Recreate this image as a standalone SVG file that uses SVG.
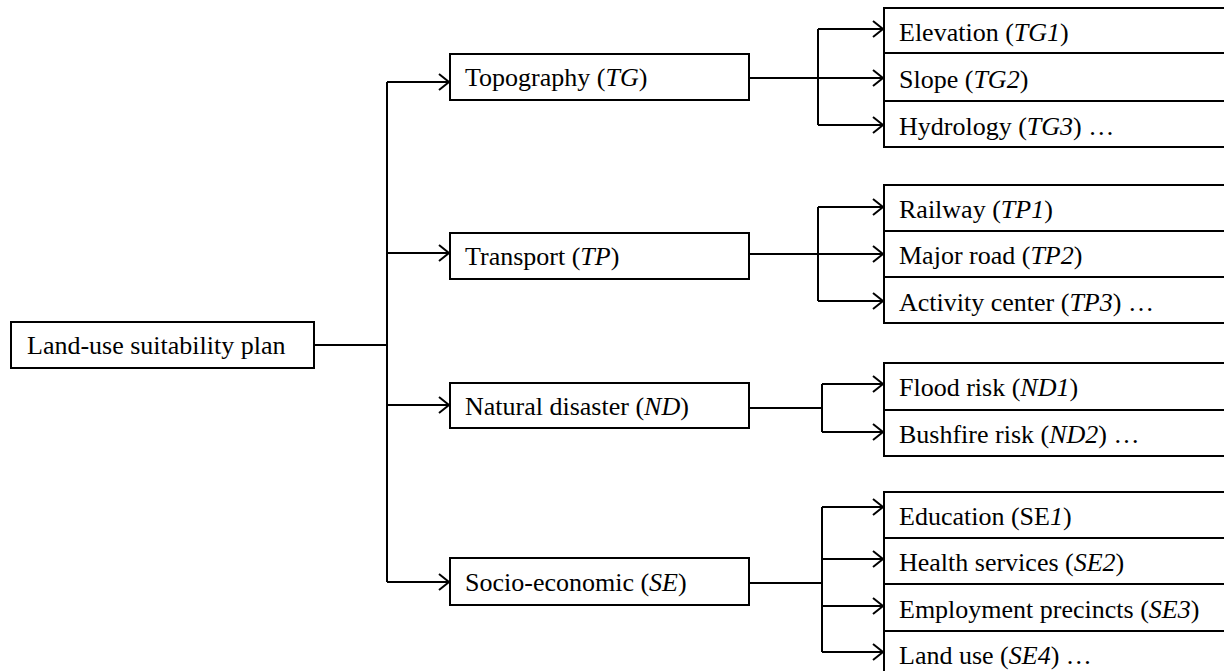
<svg xmlns="http://www.w3.org/2000/svg" width="1224" height="671" viewBox="0 0 1224 671">
<style>
.box{fill:#fff;stroke:#000;stroke-width:2}
.ln{fill:none;stroke:#000;stroke-width:2}
.ar{fill:none;stroke:#000;stroke-width:2;marker-end:url(#arr)}
text{font-family:"Liberation Serif","Times New Roman",serif;font-size:26px;fill:#000}
.i{font-style:italic}
</style>
<defs>
<marker id="arr" markerUnits="userSpaceOnUse" viewBox="-12 -10 14 20" refX="0" refY="0" markerWidth="14" markerHeight="20" orient="auto">
<path d="M-10,-8 L0,0 L-10,8" fill="none" stroke="#000" stroke-width="2"/>
</marker>
</defs>
<rect width="1224" height="671" fill="#fff"/>
<g id="connectors">
<path class="ln" d="M314,345 H387"/>
<path class="ln" d="M387,82 V582"/>
<path class="ar" d="M387,82 H449"/>
<path class="ar" d="M387,253 H449"/>
<path class="ar" d="M387,405 H449"/>
<path class="ar" d="M387,582 H449"/>
<path class="ln" d="M749,78 H818"/>
<path class="ln" d="M818,29 V125"/>
<path class="ar" d="M818,29 H883"/>
<path class="ar" d="M818,78 H883"/>
<path class="ar" d="M818,125 H883"/>
<path class="ln" d="M749,254 H818"/>
<path class="ln" d="M818,207 V301"/>
<path class="ar" d="M818,207 H883"/>
<path class="ar" d="M818,254 H883"/>
<path class="ar" d="M818,301 H883"/>
<path class="ln" d="M749,408 H822"/>
<path class="ln" d="M822,384 V432"/>
<path class="ar" d="M822,384 H883"/>
<path class="ar" d="M822,432 H883"/>
<path class="ln" d="M749,583 H822"/>
<path class="ln" d="M822,507 V652"/>
<path class="ar" d="M822,507 H883"/>
<path class="ar" d="M822,559 H883"/>
<path class="ar" d="M822,606 H883"/>
<path class="ar" d="M822,652 H883"/>
</g>
<g id="root">
<rect class="box" x="11" y="322" width="303" height="46"/>
<text x="27" y="354">Land-use suitability plan</text>
</g>
<g id="TG">
<rect class="box" x="450" y="54" width="299" height="46"/>
<text x="465" y="86">Topography (<tspan class="i">TG</tspan>)</text>
</g>
<g id="TP">
<rect class="box" x="450" y="233" width="299" height="46"/>
<text x="465" y="265">Transport (<tspan class="i">TP</tspan>)</text>
</g>
<g id="ND">
<rect class="box" x="450" y="383" width="299" height="45"/>
<text x="465" y="415">Natural disaster (<tspan class="i">ND</tspan>)</text>
</g>
<g id="SE">
<rect class="box" x="450" y="558" width="299" height="47"/>
<text x="465" y="591">Socio-economic (<tspan class="i">SE</tspan>)</text>
</g>
<g id="TG1"><rect class="box" x="884" y="8" width="350" height="45"/><text x="899" y="41">Elevation (<tspan class="i">TG1</tspan>)</text></g>
<g id="TG2"><rect class="box" x="884" y="53" width="350" height="48"/><text x="899" y="88">Slope (<tspan class="i">TG2</tspan>)</text></g>
<g id="TG3"><rect class="box" x="884" y="101" width="350" height="46"/><text x="899" y="135">Hydrology (<tspan class="i">TG3</tspan>) …</text></g>
<g id="TP1"><rect class="box" x="884" y="185" width="350" height="46"/><text x="899" y="218">Railway (<tspan class="i">TP1</tspan>)</text></g>
<g id="TP2"><rect class="box" x="884" y="231" width="350" height="46"/><text x="899" y="264">Major road (<tspan class="i">TP2</tspan>)</text></g>
<g id="TP3"><rect class="box" x="884" y="277" width="350" height="46"/><text x="899" y="311">Activity center (<tspan class="i">TP3</tspan>) …</text></g>
<g id="ND1"><rect class="box" x="884" y="363" width="350" height="47"/><text x="899" y="396">Flood risk (<tspan class="i">ND1</tspan>)</text></g>
<g id="ND2"><rect class="box" x="884" y="410" width="350" height="46"/><text x="899" y="443">Bushfire risk (<tspan class="i">ND2</tspan>) …</text></g>
<g id="SE1"><rect class="box" x="884" y="492" width="350" height="46"/><text x="899" y="525">Education (SE<tspan class="i">1</tspan>)</text></g>
<g id="SE2"><rect class="box" x="884" y="538" width="350" height="46"/><text x="899" y="571">Health services (<tspan class="i">SE2</tspan>)</text></g>
<g id="SE3"><rect class="box" x="884" y="584" width="350" height="47"/><text x="899" y="618">Employment precincts (<tspan class="i">SE3</tspan>)</text></g>
<g id="SE4"><rect class="box" x="884" y="631" width="350" height="50"/><text x="899" y="664">Land use (<tspan class="i">SE4</tspan>) …</text></g>
</svg>
